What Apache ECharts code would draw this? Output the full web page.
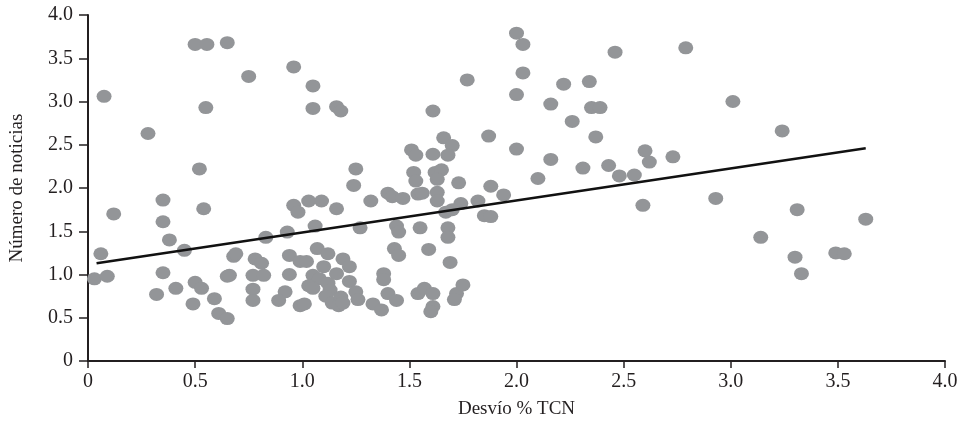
<!DOCTYPE html>
<html>
<head>
<meta charset="utf-8">
<script src="https://cdn.jsdelivr.net/npm/echarts@6/dist/echarts.min.js"></script>
<style>
  html, body { margin: 0; padding: 0; background: #fff; }
  #chart { width: 967px; height: 424px; }
</style>
</head>
<body>
<div id="chart"></div>
<script>
// desvio % TCN (x) and numero de noticias (y)
var desvio = [
  2.00, 0.50, 0.555, 0.65, 2.03, 2.79, 2.46, 0.75, 0.96, 1.05, 1.77, 2.03, 2.22, 2.34,
  0.075, 0.55, 1.05, 1.16, 1.18, 1.61, 2.00, 2.16, 2.35, 2.39, 3.01, 0.28, 2.26, 3.24,
  1.66, 1.70, 1.87, 2.37, 1.51, 1.53, 1.61, 1.68, 2.00, 2.16, 2.43, 2.60, 2.62, 2.73,
  2.31, 2.48, 2.55, 2.10, 1.88, 1.94, 1.85, 1.88, 2.59, 2.93, 3.31, 3.14, 3.63, 3.30,
  3.49, 3.53, 3.33, 0.52, 0.12, 0.35, 0.35, 0.54, 0.38, 0.06, 0.45, 0.03, 0.09, 0.35,
  0.32, 0.41, 0.50, 0.53, 0.49, 0.59, 0.61, 0.65, 0.68, 0.69, 0.65, 0.66, 0.78, 0.81,
  0.77, 0.82, 0.77, 0.77, 0.83, 0.94, 0.94, 0.92, 0.89, 0.96, 0.98, 0.93, 0.99, 0.99,
  1.25, 1.52, 1.53, 1.62, 1.65, 1.63, 1.73, 1.24, 1.03, 1.09, 1.16, 1.32, 1.40, 1.42,
  1.47, 1.54, 1.56, 1.63, 1.63, 1.74, 1.67, 1.70, 1.82, 1.06, 1.27, 1.44, 1.45, 1.55,
  1.68, 1.68, 1.43, 1.45, 1.59, 1.69, 1.02, 1.07, 1.12, 1.19, 1.22, 1.10, 1.05, 1.08,
  1.16, 1.03, 1.05, 1.12, 1.13, 1.22, 1.38, 1.38, 1.01, 1.11, 1.14, 1.17, 1.18, 1.19,
  1.25, 1.26, 1.33, 1.37, 1.40, 1.44, 1.54, 1.57, 1.61, 1.61, 1.60, 1.72, 1.75, 1.71
];
var noticias = [
  3.79, 3.66, 3.66, 3.68, 3.66, 3.62, 3.57, 3.29, 3.40, 3.18, 3.25, 3.33, 3.20, 3.23,
  3.06, 2.93, 2.92, 2.94, 2.89, 2.89, 3.08, 2.97, 2.93, 2.93, 3.00, 2.63, 2.77, 2.66,
  2.58, 2.49, 2.60, 2.59, 2.44, 2.38, 2.39, 2.38, 2.45, 2.33, 2.26, 2.43, 2.30, 2.36,
  2.23, 2.14, 2.15, 2.11, 2.02, 1.92, 1.68, 1.67, 1.80, 1.88, 1.75, 1.43, 1.64, 1.20,
  1.25, 1.24, 1.01, 2.22, 1.70, 1.86, 1.61, 1.76, 1.40, 1.24, 1.28, 0.95, 0.98, 1.02,
  0.77, 0.84, 0.91, 0.84, 0.66, 0.72, 0.55, 0.49, 1.21, 1.24, 0.98, 0.99, 1.18, 1.13,
  0.99, 0.99, 0.83, 0.70, 1.43, 1.22, 1.00, 0.80, 0.70, 1.80, 1.72, 1.49, 0.64, 1.15,
  2.22, 2.18, 2.08, 2.18, 2.21, 2.10, 2.06, 2.03, 1.85, 1.85, 1.76, 1.85, 1.94, 1.90,
  1.88, 1.93, 1.94, 1.95, 1.85, 1.82, 1.72, 1.75, 1.85, 1.56, 1.54, 1.56, 1.49, 1.54,
  1.54, 1.43, 1.30, 1.22, 1.29, 1.14, 1.15, 1.30, 1.24, 1.18, 1.09, 1.09, 0.99, 0.95,
  1.01, 0.87, 0.84, 0.90, 0.82, 0.92, 1.01, 0.94, 0.66, 0.75, 0.67, 0.64, 0.74, 0.67,
  0.80, 0.71, 0.66, 0.59, 0.78, 0.70, 0.78, 0.84, 0.78, 0.63, 0.57, 0.78, 0.88, 0.71
];
// fitted line end points
var trendX = [0.04, 3.63];
var trendY = [1.13, 2.46];
var xTicks = ['0', '0.5', '1.0', '1.5', '2.0', '2.5', '3.0', '3.5', '4.0'];
var yTicks = ['0', '0.5', '1.0', '1.5', '2.0', '2.5', '3.0', '3.5', '4.0'];

var points = desvio.map(function (x, i) { return [x, noticias[i]]; });
var trend = trendX.map(function (x, i) { return [x, trendY[i]]; });

var font = '"Liberation Serif", "DejaVu Serif", serif';
var ink = '#231f20';

var chart = echarts.init(document.getElementById('chart'));

chart.setOption({
    animation: false,
    grid: {
        left: 87,
        right: 22,
        top: 15,
        bottom: 61
    },
    xAxis: {
        type: 'value',
        min: 0,
        max: 4,
        interval: 0.5,
        name: 'Desvío % TCN',
        nameLocation: 'middle',
        nameGap: 39,
        nameTextStyle: { fontFamily: font, fontSize: 19, color: ink },
        axisLine: { lineStyle: { color: ink, width: 2 } },
        axisTick: { inside: false, length: 7, lineStyle: { color: ink, width: 1.5 } },
        splitLine: { show: false },
        axisLabel: {
            fontFamily: font,
            fontSize: 20,
            color: ink,
            margin: 11,
            formatter: function (v) { return xTicks[Math.round(v / 0.5)]; }
        }
    },
    yAxis: {
        type: 'value',
        min: 0,
        max: 4,
        interval: 0.5,
        name: 'Número de noticias',
        nameLocation: 'middle',
        nameGap: 61,
        nameTextStyle: { fontFamily: font, fontSize: 19, color: ink },
        axisLine: { show: true, lineStyle: { color: ink, width: 2 } },
        axisTick: { show: true, inside: false, length: 9, lineStyle: { color: ink, width: 1.5 } },
        splitLine: { show: false },
        axisLabel: {
            fontFamily: font,
            fontSize: 20,
            color: ink,
            margin: 15,
            formatter: function (v) { return yTicks[Math.round(v / 0.5)]; }
        }
    },
    series: [
        {
            type: 'scatter',
            symbol: 'circle',
            symbolSize: [15, 13],
            itemStyle: { color: '#939598', opacity: 1 },
            data: points
        },
        {
            type: 'line',
            symbol: 'none',
            lineStyle: { color: '#111', width: 2.5 },
            data: trend
        }
    ]
});
</script>
</body>
</html>
